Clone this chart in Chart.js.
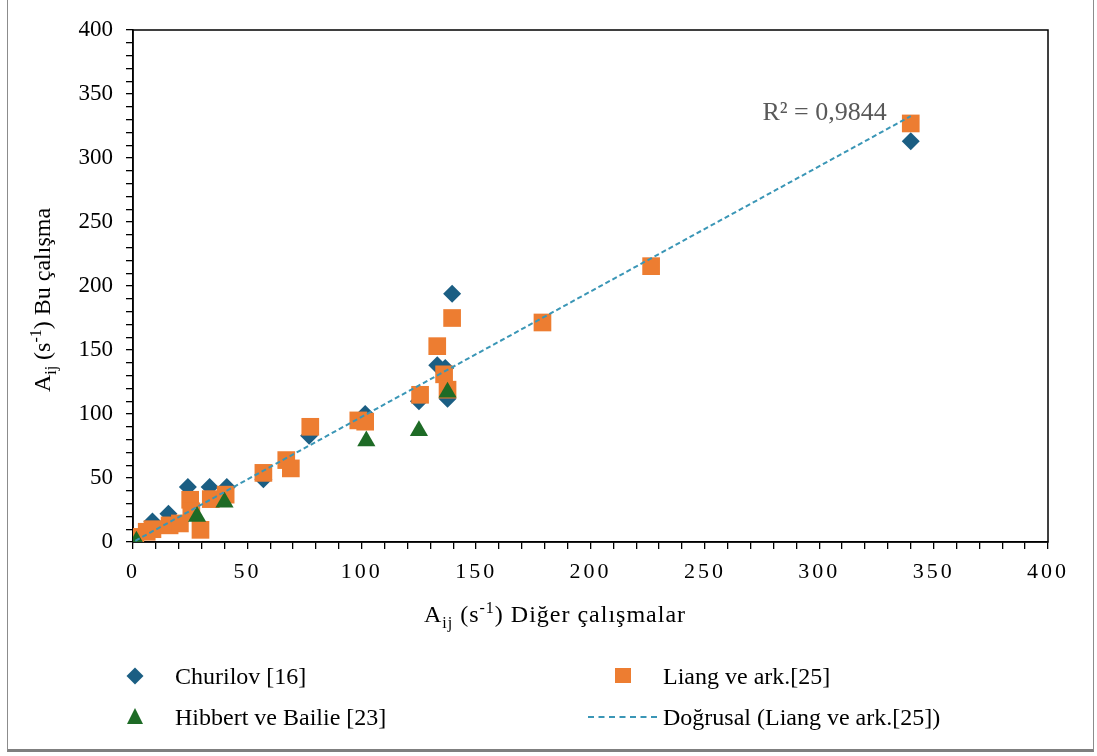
<!DOCTYPE html>
<html>
<head>
<meta charset="utf-8">
<script src="https://cdn.jsdelivr.net/npm/chart.js@4/dist/chart.umd.min.js"></script>
<style>
  html, body { margin: 0; padding: 0; background: #fff; }
  #wrap { position: relative; width: 1097px; height: 756px; overflow: hidden; background: #fff; font-family: "Liberation Serif", "Times New Roman", serif; color: #000; }
  #c { position: absolute; left: 0; top: 0; }
  #frame { position: absolute; left: 7px; top: -1px; width: 1087px; height: 753px; border: 1px solid #8c8c8c; border-bottom: 3px solid #7f7f7f; box-sizing: border-box; pointer-events: none; }
  .t { position: absolute; white-space: nowrap; font-size: 24px; line-height: 1; }
  .t sub, .t sup { font-size: 16px; line-height: 0; }
  .t sub { vertical-align: -6px; }
  .t sup { vertical-align: 9px; }
  #ytitle { left: 42px; top: 300px; transform: translate(-50%, -50%) rotate(-90deg); }
  #xtitle { left: 555px; top: 614px; transform: translate(-50%, -50%); letter-spacing: 1px; }
  .lg { position: absolute; font-size: 24px; line-height: 1; white-space: nowrap; transform: translateY(-50%); }
  .mk { position: absolute; }
</style>
</head>
<body>
<div id="wrap">
  <canvas id="c" width="1097" height="756"></canvas>
  <div id="frame"></div>
  <div class="t" id="ytitle">A<sub>ij</sub> (s<sup>-1</sup>) Bu çalışma</div>
  <div class="t" id="xtitle">A<sub>ij</sub> (s<sup>-1</sup>) Diğer çalışmalar</div>

  <div class="mk" style="left:129px;top:670px;width:12px;height:12px;background:#1b5e83;transform:rotate(45deg);"></div>
  <div class="lg" style="left:175px;top:676px;">Churilov [16]</div>
  <div class="mk" style="left:615px;top:668px;width:16px;height:15px;background:#ed7d31;"></div>
  <div class="lg" style="left:663px;top:676px;">Liang ve ark.[25]</div>
  <div class="mk" style="left:127px;top:708px;width:0;height:0;border-left:8px solid transparent;border-right:8px solid transparent;border-bottom:16px solid #1e6b26;"></div>
  <div class="lg" style="left:175px;top:717px;">Hibbert ve Bailie [23]</div>
  <div class="mk" style="left:588px;top:716px;width:69px;height:0;border-top:2px dashed #3a96b6;"></div>
  <div class="lg" style="left:663px;top:717px;">Doğrusal (Liang ve ark.[25])</div>
</div>
<script>
// ---- data ----
const churilovX = [8.5, 15.5, 24, 33.5, 41, 57, 77, 101.5, 125, 133, 136.5, 137.5, 139.5, 340];
const churilovY = [16, 22, 43, 43, 43, 49, 83, 100, 110, 138, 136, 112, 194, 313];

const liangX = [1, 6, 8.5, 16, 20.5, 25, 25.5, 29.5, 34, 40.5, 57, 67, 69, 77.5, 98.5, 101.5, 125.5, 133, 136, 137.5, 139.5, 179, 226.5, 340];
const liangY = [4, 8, 10, 13, 14.5, 33, 24, 9.5, 33.5, 37, 54, 64, 57.5, 90, 95, 94, 115, 153, 131, 119, 175, 171.5, 215.5, 327];

const hibbertX = [1.5, 28, 40, 102, 125, 137.5];
const hibbertY = [0.5, 20, 31, 79, 87, 117];

const axisMin = 0;
const axisMax = 400;
const tickStep = 10;
const labelStep = 50;
const r2Label = "R² = 0,9844";

// ---- linear trend of the Liang series (least squares) ----
function fit(xs, ys) {
  const n = xs.length;
  let sx = 0, sy = 0, sxx = 0, sxy = 0;
  for (let i = 0; i < n; i++) { sx += xs[i]; sy += ys[i]; sxx += xs[i]*xs[i]; sxy += xs[i]*ys[i]; }
  const m = (n*sxy - sx*sy) / (n*sxx - sx*sx);
  const b = (sy - m*sx) / n;
  return { m, b };
}
const tr = fit(liangX, liangY);
const tMin = Math.min(...liangX), tMax = Math.max(...liangX);
const trendPts = [{ x: tMin, y: tr.m*tMin + tr.b }, { x: tMax, y: tr.m*tMax + tr.b }];

const pts = (xs, ys) => xs.map((x, i) => ({ x, y: ys[i] }));

const frameBox = {
  id: 'frameBox',
  beforeDraw(chart) {
    // wider letter spacing for the x-axis tick labels
    const xs = chart.scales.x;
    if (xs && !xs._spaced) {
      const orig = xs.drawLabels.bind(xs);
      xs.drawLabels = function (a) {
        const c = this.ctx;
        const prev = c.letterSpacing;
        c.letterSpacing = '3px';
        orig(a);
        c.letterSpacing = prev || '0px';
      };
      xs._spaced = true;
    }
  },
  beforeDatasetsDraw(chart) {
    const { ctx, chartArea: a } = chart;
    ctx.save();
    ctx.strokeStyle = '#000';
    ctx.lineWidth = 1.5;
    ctx.strokeRect(a.left, a.top, a.right - a.left, a.bottom - a.top);
    ctx.restore();
  },
  afterDraw(chart) {
    const { ctx } = chart;
    const xs = chart.scales.x, ys = chart.scales.y;
    const p = trendPts[1];
    ctx.save();
    ctx.font = '26px "Liberation Serif", serif';
    ctx.fillStyle = '#595959';
    ctx.textAlign = 'right';
    ctx.textBaseline = 'alphabetic';
    ctx.fillText(r2Label, xs.getPixelForValue(p.x) - 24, ys.getPixelForValue(p.y) + 4);
    ctx.restore();
  }
};

const xTickFont = { family: '"Liberation Serif", "Times New Roman", serif', size: 22 };
const yTickFont = { family: '"Liberation Serif", "Times New Roman", serif', size: 23 };
const tickCb = v => (v % labelStep === 0 ? String(v) : '');

new Chart(document.getElementById('c'), {
  type: 'scatter',
  data: {
    datasets: [
      { label: 'Doğrusal (Liang ve ark.[25])', type: 'line', data: trendPts, borderColor: '#3a96b6', borderWidth: 2, borderDash: [5, 3], pointRadius: 0, fill: false, order: 0 },
      { label: 'Hibbert ve Bailie [23]', data: pts(hibbertX, hibbertY), pointStyle: 'triangle', pointRadius: 10.5, backgroundColor: '#1e6b26', borderColor: '#1e6b26', borderWidth: 0, order: 1 },
      { label: 'Liang ve ark.[25]', data: pts(liangX, liangY), pointStyle: 'rect', pointRadius: 12.5, backgroundColor: '#ed7d31', borderColor: '#ed7d31', borderWidth: 0, order: 2 },
      { label: 'Churilov [16]', data: pts(churilovX, churilovY), pointStyle: 'rectRot', pointRadius: 9, backgroundColor: '#1b5e83', borderColor: '#1b5e83', borderWidth: 0, order: 3 }
    ]
  },
  options: {
    responsive: false,
    devicePixelRatio: 1,
    animation: false,
    layout: { padding: { left: 0, right: 49, top: 30, bottom: 169 } },
    plugins: { legend: { display: false }, tooltip: { enabled: false } },
    scales: {
      x: {
        type: 'linear', min: axisMin, max: axisMax,
        afterFit(s) { s.height = 45; },
        grid: { drawOnChartArea: false, drawTicks: true, tickLength: 7, color: '#000', lineWidth: 1.3 },
        border: { display: true, color: '#000', width: 1.5 },
        ticks: { stepSize: tickStep, autoSkip: false, maxRotation: 0, callback: tickCb, font: xTickFont, color: '#000', padding: 10 }
      },
      y: {
        type: 'linear', min: axisMin, max: axisMax,
        afterFit(s) { s.width = 133; },
        grid: { drawOnChartArea: false, drawTicks: true, tickLength: 7, color: '#000', lineWidth: 1.3 },
        border: { display: true, color: '#000', width: 1.5 },
        ticks: { stepSize: tickStep, autoSkip: false, callback: tickCb, font: yTickFont, color: '#000', padding: 13 }
      }
    }
  },
  plugins: [frameBox]
});
</script>
</body>
</html>
